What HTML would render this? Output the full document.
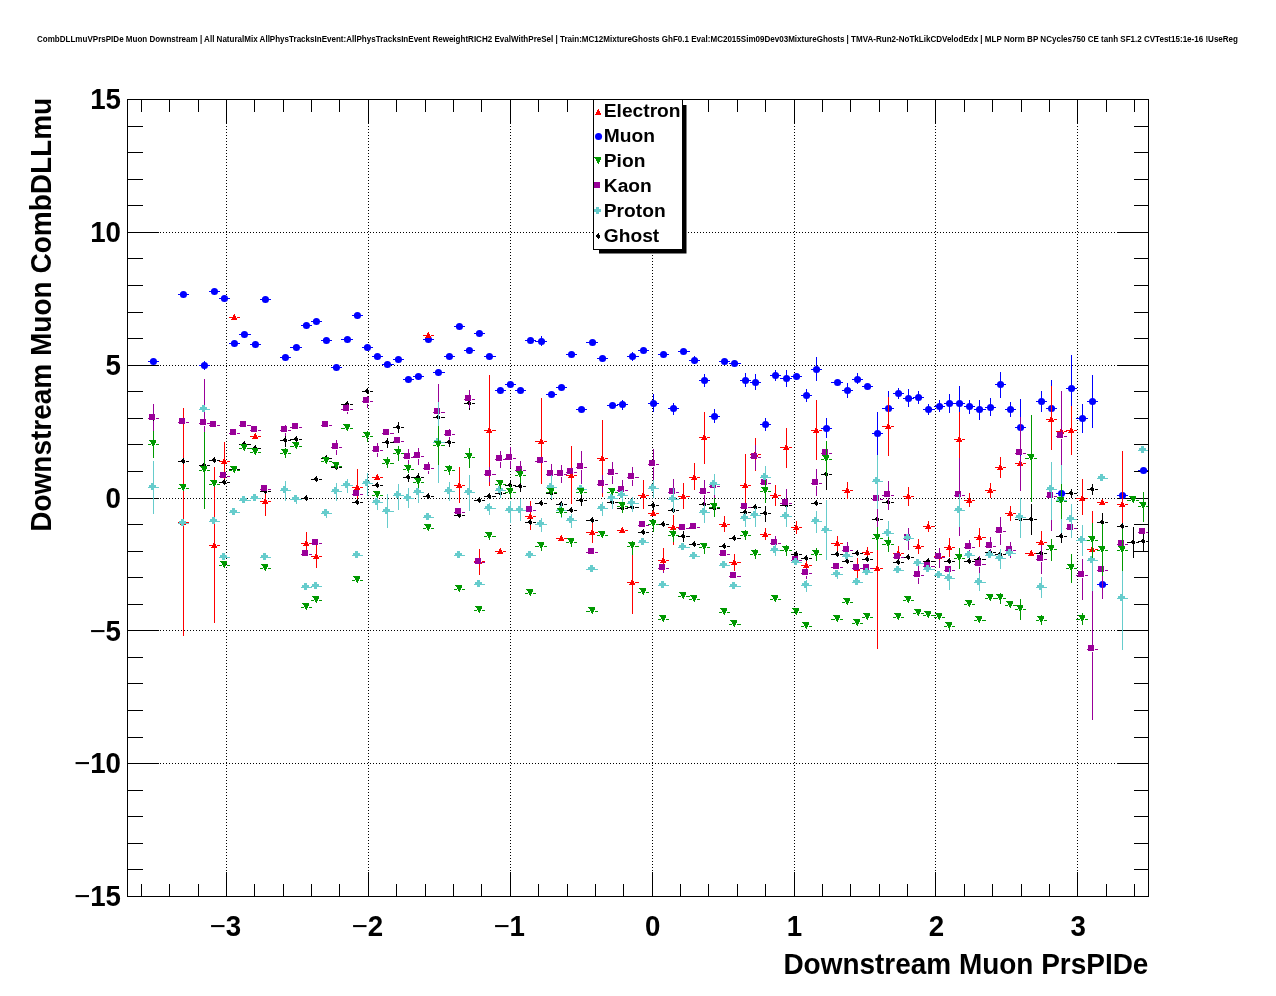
<!DOCTYPE html>
<html lang="en"><head><meta charset="utf-8"><title>CombDLLmu vs PrsPIDe</title>
<style>
html,body{margin:0;padding:0;background:#fff;}
body{width:1276px;height:996px;overflow:hidden;}
svg{display:block;}
text{font-family:"Liberation Sans",sans-serif;font-weight:bold;fill:#000;}
.ax{stroke:#000;stroke-width:1;fill:none;shape-rendering:crispEdges;}
.gr{stroke:#000;stroke-width:1;fill:none;stroke-dasharray:1 2;shape-rendering:crispEdges;}
.tl{font-size:29.3px;}
.at{font-size:29.6px;}
.lg{font-size:19.2px;}
.e{stroke-width:1;fill:none;shape-rendering:crispEdges;}
</style></head><body>
<svg width="1276" height="996" viewBox="0 0 1276 996">
<rect x="0" y="0" width="1276" height="996" fill="#fff"/>
<text x="37" y="41.9" style="font-size:8.3px" textLength="1201" lengthAdjust="spacingAndGlyphs">CombDLLmuVPrsPIDe Muon Downstream | All NaturalMix AllPhysTracksInEvent:AllPhysTracksInEvent ReweightRICH2 EvalWithPreSel | Train:MC12MixtureGhosts GhF0.1 Eval:MC2015Sim09Dev03MixtureGhosts | TMVA-Run2-NoTkLikCDVelodEdx | MLP Norm BP NCycles750 CE tanh SF1.2 CVTest15:1e-16 !UseReg</text>
<g class="gr">
<line x1="226.5" y1="99" x2="226.5" y2="897"/>
<line x1="368.5" y1="99" x2="368.5" y2="897"/>
<line x1="510.5" y1="99" x2="510.5" y2="897"/>
<line x1="652.5" y1="99" x2="652.5" y2="897"/>
<line x1="794.5" y1="99" x2="794.5" y2="897"/>
<line x1="935.5" y1="99" x2="935.5" y2="897"/>
<line x1="1077.5" y1="99" x2="1077.5" y2="897"/>
<line x1="127" y1="763.5" x2="1149" y2="763.5"/>
<line x1="127" y1="630.5" x2="1149" y2="630.5"/>
<line x1="127" y1="498.5" x2="1149" y2="498.5"/>
<line x1="127" y1="365.5" x2="1149" y2="365.5"/>
<line x1="127" y1="232.5" x2="1149" y2="232.5"/>
</g>
<g class="ax">
<rect x="127.5" y="99.5" width="1021.0" height="797.0"/>
<path d="M141.5 896.5v-12.6M141.5 99.5v12M169.5 896.5v-12.6M169.5 99.5v12M198.5 896.5v-12.6M198.5 99.5v12M226.5 896.5v-24.6M226.5 99.5v24M254.5 896.5v-12.6M254.5 99.5v12M283.5 896.5v-12.6M283.5 99.5v12M311.5 896.5v-12.6M311.5 99.5v12M339.5 896.5v-12.6M339.5 99.5v12M368.5 896.5v-24.6M368.5 99.5v24M396.5 896.5v-12.6M396.5 99.5v12M425.5 896.5v-12.6M425.5 99.5v12M453.5 896.5v-12.6M453.5 99.5v12M481.5 896.5v-12.6M481.5 99.5v12M510.5 896.5v-24.6M510.5 99.5v24M538.5 896.5v-12.6M538.5 99.5v12M567.5 896.5v-12.6M567.5 99.5v12M595.5 896.5v-12.6M595.5 99.5v12M623.5 896.5v-12.6M623.5 99.5v12M652.5 896.5v-24.6M652.5 99.5v24M680.5 896.5v-12.6M680.5 99.5v12M708.5 896.5v-12.6M708.5 99.5v12M737.5 896.5v-12.6M737.5 99.5v12M765.5 896.5v-12.6M765.5 99.5v12M794.5 896.5v-24.6M794.5 99.5v24M822.5 896.5v-12.6M822.5 99.5v12M850.5 896.5v-12.6M850.5 99.5v12M879.5 896.5v-12.6M879.5 99.5v12M907.5 896.5v-12.6M907.5 99.5v12M935.5 896.5v-24.6M935.5 99.5v24M964.5 896.5v-12.6M964.5 99.5v12M992.5 896.5v-12.6M992.5 99.5v12M1021.5 896.5v-12.6M1021.5 99.5v12M1049.5 896.5v-12.6M1049.5 99.5v12M1077.5 896.5v-24.6M1077.5 99.5v24M1106.5 896.5v-12.6M1106.5 99.5v12M1134.5 896.5v-12.6M1134.5 99.5v12M127.5 869.5h15M1148.5 869.5h-15M127.5 843.5h15M1148.5 843.5h-15M127.5 816.5h15M1148.5 816.5h-15M127.5 790.5h15M1148.5 790.5h-15M127.5 763.5h31M1148.5 763.5h-31M127.5 737.5h15M1148.5 737.5h-15M127.5 710.5h15M1148.5 710.5h-15M127.5 683.5h15M1148.5 683.5h-15M127.5 657.5h15M1148.5 657.5h-15M127.5 630.5h31M1148.5 630.5h-31M127.5 604.5h15M1148.5 604.5h-15M127.5 577.5h15M1148.5 577.5h-15M127.5 551.5h15M1148.5 551.5h-15M127.5 524.5h15M1148.5 524.5h-15M127.5 498.5h31M1148.5 498.5h-31M127.5 471.5h15M1148.5 471.5h-15M127.5 444.5h15M1148.5 444.5h-15M127.5 418.5h15M1148.5 418.5h-15M127.5 391.5h15M1148.5 391.5h-15M127.5 365.5h31M1148.5 365.5h-31M127.5 338.5h15M1148.5 338.5h-15M127.5 312.5h15M1148.5 312.5h-15M127.5 285.5h15M1148.5 285.5h-15M127.5 258.5h15M1148.5 258.5h-15M127.5 232.5h31M1148.5 232.5h-31M127.5 205.5h15M1148.5 205.5h-15M127.5 179.5h15M1148.5 179.5h-15M127.5 152.5h15M1148.5 152.5h-15M127.5 126.5h15M1148.5 126.5h-15"/>
</g>
<defs><clipPath id="fc"><rect x="128" y="100" width="1020" height="796"/></clipPath><clipPath id="lc"><rect x="594" y="100" width="88" height="149"/></clipPath></defs>
<g clip-path="url(#fc)">
<g fill="#0000ff"><path class="e" stroke="#0000ff" d="M148 361.5H151M156 361.5H159M178 294.5H181M186 294.5H189M199 365.5H202M207 365.5H210M204.5 363V361M204.5 368V370M209 291.5H212M217 291.5H220M219 298.5H222M227 298.5H230M229 343.5H232M237 343.5H240M239 334.5H242M247 334.5H251M250 344.5H253M258 344.5H261M260 299.5H263M268 299.5H271M280 357.5H283M288 357.5H291M290 347.5H294M299 347.5H302M301 325.5H304M309 325.5H312M311 321.5H314M319 321.5H322M321 340.5H324M329 340.5H332M331 367.5H334M339 367.5H342M341 339.5H345M350 339.5H353M352 315.5H355M360 315.5H363M362 347.5H365M370 347.5H373M372 356.5H375M380 356.5H383M382 364.5H385M390 364.5H394M393 359.5H396M401 359.5H404M403 379.5H406M411 379.5H414M413 376.5H416M421 376.5H424M423 339.5H426M431 339.5H434M433 372.5H436M441 372.5H445M444 356.5H447M452 356.5H455M454 326.5H457M462 326.5H465M464 350.5H467M472 350.5H475M474 333.5H477M482 333.5H485M484 356.5H487M492 356.5H496M495 390.5H498M503 390.5H506M505 384.5H508M513 384.5H516M515 390.5H518M523 390.5H526M525 340.5H528M533 340.5H536M535 341.5H539M544 341.5H547M541.5 339V336M541.5 344V346M546 394.5H549M554 394.5H557M556 387.5H559M564 387.5H567M566 354.5H569M574 354.5H577M576 409.5H579M584 409.5H587M586 342.5H590M595 342.5H598M597 358.5H600M605 358.5H608M607 405.5H610M615 405.5H618M617 404.5H620M625 404.5H628M622.5 402V400M622.5 407V410M627 356.5H630M635 356.5H639M632.5 354V352M632.5 359V361M638 350.5H641M646 350.5H649M648 403.5H651M656 403.5H659M653.5 401V394M653.5 406V412M658 354.5H661M666 354.5H669M668 408.5H671M676 408.5H679M673.5 406V403M673.5 411V415M678 351.5H681M686 351.5H690M689 360.5H692M697 360.5H700M694.5 358V356M694.5 363V364M699 380.5H702M707 380.5H710M704.5 378V374M704.5 383V387M709 416.5H712M717 416.5H720M714.5 414V409M714.5 419V423M719 361.5H722M727 361.5H730M729 363.5H732M737 363.5H741M740 380.5H743M748 380.5H751M745.5 378V373M745.5 383V387M750 382.5H753M758 382.5H761M755.5 380V374M755.5 385V390M760 424.5H763M768 424.5H771M765.5 422V418M765.5 427V431M770 375.5H773M778 375.5H781M775.5 373V370M775.5 378V381M780 378.5H784M789 378.5H792M786.5 376V370M786.5 381V387M791 376.5H794M799 376.5H802M801 395.5H804M809 395.5H812M806.5 393V389M806.5 398V402M811 369.5H814M819 369.5H822M816.5 367V357M816.5 372V381M821 428.5H824M829 428.5H832M826.5 426V418M826.5 431V438M831 382.5H835M840 382.5H843M842 390.5H845M850 390.5H853M847.5 388V383M847.5 393V398M852 379.5H855M860 379.5H863M857.5 377V373M857.5 382V384M862 386.5H865M870 386.5H873M872 433.5H875M880 433.5H883M877.5 431V412M877.5 436V455M882 408.5H886M891 408.5H894M888.5 406V391M888.5 411V426M893 393.5H896M901 393.5H904M898.5 391V388M898.5 396V399M903 398.5H906M911 398.5H914M908.5 396V389M908.5 401V407M913 397.5H916M921 397.5H924M918.5 395V391M918.5 400V404M923 409.5H926M931 409.5H935M928.5 407V404M928.5 412V415M934 406.5H937M942 406.5H945M939.5 404V400M939.5 409V412M944 403.5H947M952 403.5H955M949.5 401V394M949.5 406V413M954 403.5H957M962 403.5H965M959.5 401V386M959.5 406V421M964 406.5H967M972 406.5H975M969.5 404V400M969.5 409V414M974 409.5H977M982 409.5H986M979.5 407V400M979.5 412V420M985 407.5H988M993 407.5H996M990.5 405V398M990.5 410V416M995 384.5H998M1003 384.5H1006M1000.5 382V372M1000.5 387V398M1005 409.5H1008M1013 409.5H1016M1010.5 407V402M1010.5 412V417M1015 427.5H1018M1023 427.5H1026M1020.5 425V399M1020.5 430V456M1036 401.5H1039M1044 401.5H1047M1041.5 399V391M1041.5 404V412M1046 408.5H1049M1054 408.5H1057M1051.5 406V380M1051.5 411V437M1056 493.5H1059M1064 493.5H1067M1066 388.5H1069M1074 388.5H1077M1071.5 386V355M1071.5 391V422M1076 418.5H1080M1085 418.5H1088M1082.5 416V404M1082.5 421V433M1087 401.5H1090M1095 401.5H1098M1092.5 399V375M1092.5 404V428M1097 584.5H1100M1105 584.5H1108M1117 495.5H1120M1125 495.5H1128M1138 470.5H1141M1146 470.5H1149"/><path d="M149.9 361.5a3.55 3.55 0 1 0 7.1 0a3.55 3.55 0 1 0 -7.1 0zM179.9 294.5a3.55 3.55 0 1 0 7.1 0a3.55 3.55 0 1 0 -7.1 0zM200.9 365.5a3.55 3.55 0 1 0 7.1 0a3.55 3.55 0 1 0 -7.1 0zM210.9 291.5a3.55 3.55 0 1 0 7.1 0a3.55 3.55 0 1 0 -7.1 0zM220.9 298.5a3.55 3.55 0 1 0 7.1 0a3.55 3.55 0 1 0 -7.1 0zM230.9 343.5a3.55 3.55 0 1 0 7.1 0a3.55 3.55 0 1 0 -7.1 0zM240.9 334.5a3.55 3.55 0 1 0 7.1 0a3.55 3.55 0 1 0 -7.1 0zM251.9 344.5a3.55 3.55 0 1 0 7.1 0a3.55 3.55 0 1 0 -7.1 0zM261.9 299.5a3.55 3.55 0 1 0 7.1 0a3.55 3.55 0 1 0 -7.1 0zM281.9 357.5a3.55 3.55 0 1 0 7.1 0a3.55 3.55 0 1 0 -7.1 0zM292.9 347.5a3.55 3.55 0 1 0 7.1 0a3.55 3.55 0 1 0 -7.1 0zM302.9 325.5a3.55 3.55 0 1 0 7.1 0a3.55 3.55 0 1 0 -7.1 0zM312.9 321.5a3.55 3.55 0 1 0 7.1 0a3.55 3.55 0 1 0 -7.1 0zM322.9 340.5a3.55 3.55 0 1 0 7.1 0a3.55 3.55 0 1 0 -7.1 0zM332.9 367.5a3.55 3.55 0 1 0 7.1 0a3.55 3.55 0 1 0 -7.1 0zM343.9 339.5a3.55 3.55 0 1 0 7.1 0a3.55 3.55 0 1 0 -7.1 0zM353.9 315.5a3.55 3.55 0 1 0 7.1 0a3.55 3.55 0 1 0 -7.1 0zM363.9 347.5a3.55 3.55 0 1 0 7.1 0a3.55 3.55 0 1 0 -7.1 0zM373.9 356.5a3.55 3.55 0 1 0 7.1 0a3.55 3.55 0 1 0 -7.1 0zM383.9 364.5a3.55 3.55 0 1 0 7.1 0a3.55 3.55 0 1 0 -7.1 0zM394.9 359.5a3.55 3.55 0 1 0 7.1 0a3.55 3.55 0 1 0 -7.1 0zM404.9 379.5a3.55 3.55 0 1 0 7.1 0a3.55 3.55 0 1 0 -7.1 0zM414.9 376.5a3.55 3.55 0 1 0 7.1 0a3.55 3.55 0 1 0 -7.1 0zM424.9 339.5a3.55 3.55 0 1 0 7.1 0a3.55 3.55 0 1 0 -7.1 0zM434.9 372.5a3.55 3.55 0 1 0 7.1 0a3.55 3.55 0 1 0 -7.1 0zM445.9 356.5a3.55 3.55 0 1 0 7.1 0a3.55 3.55 0 1 0 -7.1 0zM455.9 326.5a3.55 3.55 0 1 0 7.1 0a3.55 3.55 0 1 0 -7.1 0zM465.9 350.5a3.55 3.55 0 1 0 7.1 0a3.55 3.55 0 1 0 -7.1 0zM475.9 333.5a3.55 3.55 0 1 0 7.1 0a3.55 3.55 0 1 0 -7.1 0zM485.9 356.5a3.55 3.55 0 1 0 7.1 0a3.55 3.55 0 1 0 -7.1 0zM496.9 390.5a3.55 3.55 0 1 0 7.1 0a3.55 3.55 0 1 0 -7.1 0zM506.9 384.5a3.55 3.55 0 1 0 7.1 0a3.55 3.55 0 1 0 -7.1 0zM517 390.5a3.55 3.55 0 1 0 7.1 0a3.55 3.55 0 1 0 -7.1 0zM527 340.5a3.55 3.55 0 1 0 7.1 0a3.55 3.55 0 1 0 -7.1 0zM538 341.5a3.55 3.55 0 1 0 7.1 0a3.55 3.55 0 1 0 -7.1 0zM548 394.5a3.55 3.55 0 1 0 7.1 0a3.55 3.55 0 1 0 -7.1 0zM558 387.5a3.55 3.55 0 1 0 7.1 0a3.55 3.55 0 1 0 -7.1 0zM568 354.5a3.55 3.55 0 1 0 7.1 0a3.55 3.55 0 1 0 -7.1 0zM578 409.5a3.55 3.55 0 1 0 7.1 0a3.55 3.55 0 1 0 -7.1 0zM589 342.5a3.55 3.55 0 1 0 7.1 0a3.55 3.55 0 1 0 -7.1 0zM599 358.5a3.55 3.55 0 1 0 7.1 0a3.55 3.55 0 1 0 -7.1 0zM609 405.5a3.55 3.55 0 1 0 7.1 0a3.55 3.55 0 1 0 -7.1 0zM619 404.5a3.55 3.55 0 1 0 7.1 0a3.55 3.55 0 1 0 -7.1 0zM629 356.5a3.55 3.55 0 1 0 7.1 0a3.55 3.55 0 1 0 -7.1 0zM640 350.5a3.55 3.55 0 1 0 7.1 0a3.55 3.55 0 1 0 -7.1 0zM650 403.5a3.55 3.55 0 1 0 7.1 0a3.55 3.55 0 1 0 -7.1 0zM660 354.5a3.55 3.55 0 1 0 7.1 0a3.55 3.55 0 1 0 -7.1 0zM670 408.5a3.55 3.55 0 1 0 7.1 0a3.55 3.55 0 1 0 -7.1 0zM680 351.5a3.55 3.55 0 1 0 7.1 0a3.55 3.55 0 1 0 -7.1 0zM691 360.5a3.55 3.55 0 1 0 7.1 0a3.55 3.55 0 1 0 -7.1 0zM701 380.5a3.55 3.55 0 1 0 7.1 0a3.55 3.55 0 1 0 -7.1 0zM711 416.5a3.55 3.55 0 1 0 7.1 0a3.55 3.55 0 1 0 -7.1 0zM721 361.5a3.55 3.55 0 1 0 7.1 0a3.55 3.55 0 1 0 -7.1 0zM731 363.5a3.55 3.55 0 1 0 7.1 0a3.55 3.55 0 1 0 -7.1 0zM742 380.5a3.55 3.55 0 1 0 7.1 0a3.55 3.55 0 1 0 -7.1 0zM752 382.5a3.55 3.55 0 1 0 7.1 0a3.55 3.55 0 1 0 -7.1 0zM762 424.5a3.55 3.55 0 1 0 7.1 0a3.55 3.55 0 1 0 -7.1 0zM772 375.5a3.55 3.55 0 1 0 7.1 0a3.55 3.55 0 1 0 -7.1 0zM783 378.5a3.55 3.55 0 1 0 7.1 0a3.55 3.55 0 1 0 -7.1 0zM793 376.5a3.55 3.55 0 1 0 7.1 0a3.55 3.55 0 1 0 -7.1 0zM803 395.5a3.55 3.55 0 1 0 7.1 0a3.55 3.55 0 1 0 -7.1 0zM813 369.5a3.55 3.55 0 1 0 7.1 0a3.55 3.55 0 1 0 -7.1 0zM823 428.5a3.55 3.55 0 1 0 7.1 0a3.55 3.55 0 1 0 -7.1 0zM834 382.5a3.55 3.55 0 1 0 7.1 0a3.55 3.55 0 1 0 -7.1 0zM844 390.5a3.55 3.55 0 1 0 7.1 0a3.55 3.55 0 1 0 -7.1 0zM854 379.5a3.55 3.55 0 1 0 7.1 0a3.55 3.55 0 1 0 -7.1 0zM864 386.5a3.55 3.55 0 1 0 7.1 0a3.55 3.55 0 1 0 -7.1 0zM874 433.5a3.55 3.55 0 1 0 7.1 0a3.55 3.55 0 1 0 -7.1 0zM885 408.5a3.55 3.55 0 1 0 7.1 0a3.55 3.55 0 1 0 -7.1 0zM895 393.5a3.55 3.55 0 1 0 7.1 0a3.55 3.55 0 1 0 -7.1 0zM905 398.5a3.55 3.55 0 1 0 7.1 0a3.55 3.55 0 1 0 -7.1 0zM915 397.5a3.55 3.55 0 1 0 7.1 0a3.55 3.55 0 1 0 -7.1 0zM925 409.5a3.55 3.55 0 1 0 7.1 0a3.55 3.55 0 1 0 -7.1 0zM936 406.5a3.55 3.55 0 1 0 7.1 0a3.55 3.55 0 1 0 -7.1 0zM946 403.5a3.55 3.55 0 1 0 7.1 0a3.55 3.55 0 1 0 -7.1 0zM956 403.5a3.55 3.55 0 1 0 7.1 0a3.55 3.55 0 1 0 -7.1 0zM966 406.5a3.55 3.55 0 1 0 7.1 0a3.55 3.55 0 1 0 -7.1 0zM976 409.5a3.55 3.55 0 1 0 7.1 0a3.55 3.55 0 1 0 -7.1 0zM987 407.5a3.55 3.55 0 1 0 7.1 0a3.55 3.55 0 1 0 -7.1 0zM997 384.5a3.55 3.55 0 1 0 7.1 0a3.55 3.55 0 1 0 -7.1 0zM1007 409.5a3.55 3.55 0 1 0 7.1 0a3.55 3.55 0 1 0 -7.1 0zM1017 427.5a3.55 3.55 0 1 0 7.1 0a3.55 3.55 0 1 0 -7.1 0zM1038 401.5a3.55 3.55 0 1 0 7.1 0a3.55 3.55 0 1 0 -7.1 0zM1048 408.5a3.55 3.55 0 1 0 7.1 0a3.55 3.55 0 1 0 -7.1 0zM1058 493.5a3.55 3.55 0 1 0 7.1 0a3.55 3.55 0 1 0 -7.1 0zM1068 388.5a3.55 3.55 0 1 0 7.1 0a3.55 3.55 0 1 0 -7.1 0zM1079 418.5a3.55 3.55 0 1 0 7.1 0a3.55 3.55 0 1 0 -7.1 0zM1089 401.5a3.55 3.55 0 1 0 7.1 0a3.55 3.55 0 1 0 -7.1 0zM1099 584.5a3.55 3.55 0 1 0 7.1 0a3.55 3.55 0 1 0 -7.1 0zM1119 495.5a3.55 3.55 0 1 0 7.1 0a3.55 3.55 0 1 0 -7.1 0zM1140 470.5a3.55 3.55 0 1 0 7.1 0a3.55 3.55 0 1 0 -7.1 0z"/></g>
<g fill="#ff0000"><path class="e" stroke="#ff0000" d="M178 522.5H181M186 522.5H189M183.5 520V408M183.5 525V636M209 545.5H212M217 545.5H220M214.5 543V467M214.5 548V623M219 461.5H222M227 461.5H230M224.5 459V442M224.5 464V481M229 317.5H232M237 317.5H240M250 436.5H253M258 436.5H261M260 501.5H263M268 501.5H271M265.5 499V490M265.5 504V516M301 543.5H304M309 543.5H312M306.5 541V532M306.5 546V554M311 556.5H314M319 556.5H322M316.5 554V544M316.5 559V568M352 487.5H355M360 487.5H363M357.5 485V469M357.5 490V500M372 477.5H375M380 477.5H383M423 335.5H426M431 335.5H434M454 485.5H457M462 485.5H465M459.5 483V467M459.5 488V503M474 561.5H477M482 561.5H485M479.5 559V549M479.5 564V575M484 430.5H487M492 430.5H496M489.5 428V375M489.5 433V486M495 551.5H498M503 551.5H506M525 516.5H528M533 516.5H536M530.5 514V501M530.5 519V530M535 441.5H539M544 441.5H547M541.5 439V398M541.5 444V484M556 538.5H559M564 538.5H567M566 475.5H569M574 475.5H577M571.5 473V446M571.5 478V504M586 532.5H590M595 532.5H598M592.5 530V523M592.5 535V543M597 458.5H600M605 458.5H608M602.5 456V420M602.5 461V497M617 530.5H620M625 530.5H628M627 582.5H630M635 582.5H639M632.5 580V551M632.5 585V614M638 495.5H641M646 495.5H649M643.5 493V480M643.5 498V509M648 513.5H651M656 513.5H659M658 560.5H661M666 560.5H669M663.5 558V548M663.5 563V573M668 527.5H671M676 527.5H679M673.5 525V515M673.5 530V545M678 496.5H681M686 496.5H690M683.5 494V483M683.5 499V509M689 477.5H692M697 477.5H700M694.5 475V463M694.5 480V490M699 437.5H702M707 437.5H710M704.5 435V412M704.5 440V464M719 524.5H722M727 524.5H730M724.5 522V516M724.5 527V532M729 562.5H732M737 562.5H741M734.5 560V554M734.5 565V571M740 485.5H743M748 485.5H751M745.5 483V454M745.5 488V517M750 454.5H753M758 454.5H761M755.5 452V438M755.5 457V471M760 534.5H763M768 534.5H771M765.5 532V528M765.5 537V540M770 495.5H773M778 495.5H781M775.5 493V485M775.5 498V506M780 447.5H784M789 447.5H792M786.5 445V428M786.5 450V468M791 527.5H794M799 527.5H802M796.5 525V521M796.5 530V534M801 565.5H804M809 565.5H812M806.5 563V561M806.5 568V570M811 430.5H814M819 430.5H822M816.5 428V400M816.5 433V460M831 543.5H835M840 543.5H843M837.5 541V536M837.5 546V551M842 490.5H845M850 490.5H853M847.5 488V482M847.5 493V499M852 568.5H855M860 568.5H863M857.5 566V558M857.5 571V578M862 552.5H865M870 552.5H873M867.5 550V547M867.5 555V559M872 568.5H875M880 568.5H883M877.5 566V488M877.5 571V649M882 426.5H886M891 426.5H894M888.5 424V397M888.5 429V456M893 553.5H896M901 553.5H904M898.5 551V546M898.5 556V561M903 496.5H906M911 496.5H914M908.5 494V487M908.5 499V506M913 546.5H916M921 546.5H924M918.5 544V539M918.5 549V554M923 526.5H926M931 526.5H935M928.5 524V521M928.5 529V532M934 556.5H937M942 556.5H945M939.5 554V549M939.5 559V565M944 547.5H947M952 547.5H955M949.5 545V538M949.5 550V557M954 439.5H957M962 439.5H965M959.5 437V412M959.5 442V467M964 500.5H967M972 500.5H975M969.5 498V493M969.5 503V507M974 537.5H977M982 537.5H986M979.5 535V528M979.5 540V547M985 490.5H988M993 490.5H996M990.5 488V483M990.5 493V498M995 467.5H998M1003 467.5H1006M1000.5 465V457M1000.5 470V478M1005 513.5H1008M1013 513.5H1016M1010.5 511V506M1010.5 516V521M1015 463.5H1018M1023 463.5H1026M1025 553.5H1029M1034 553.5H1037M1036 542.5H1039M1044 542.5H1047M1041.5 540V531M1041.5 545V554M1046 419.5H1049M1054 419.5H1057M1051.5 417V386M1051.5 422V450M1056 431.5H1059M1064 431.5H1067M1066 430.5H1069M1074 430.5H1077M1071.5 428V406M1071.5 433V455M1076 498.5H1080M1085 498.5H1088M1082.5 496V479M1082.5 501V515M1087 549.5H1090M1095 549.5H1098M1092.5 547V511M1092.5 552V589M1097 502.5H1100M1105 502.5H1108M1117 504.5H1120M1125 504.5H1128M1122.5 502V451M1122.5 507V557"/><path shape-rendering="crispEdges" d="M183 519h1v2h1v2h1v2h-6v-1h1v-2h1v-2h1zM214 542h1v2h1v2h1v2h-6v-1h1v-2h1v-2h1zM224 458h1v2h1v2h1v2h-6v-1h1v-2h1v-2h1zM234 314h1v2h1v2h1v2h-6v-1h1v-2h1v-2h1zM255 433h1v2h1v2h1v2h-6v-1h1v-2h1v-2h1zM265 498h1v2h1v2h1v2h-6v-1h1v-2h1v-2h1zM306 540h1v2h1v2h1v2h-6v-1h1v-2h1v-2h1zM316 553h1v2h1v2h1v2h-6v-1h1v-2h1v-2h1zM357 484h1v2h1v2h1v2h-6v-1h1v-2h1v-2h1zM377 474h1v2h1v2h1v2h-6v-1h1v-2h1v-2h1zM428 332h1v2h1v2h1v2h-6v-1h1v-2h1v-2h1zM459 482h1v2h1v2h1v2h-6v-1h1v-2h1v-2h1zM479 558h1v2h1v2h1v2h-6v-1h1v-2h1v-2h1zM489 427h1v2h1v2h1v2h-6v-1h1v-2h1v-2h1zM500 548h1v2h1v2h1v2h-6v-1h1v-2h1v-2h1zM530 513h1v2h1v2h1v2h-6v-1h1v-2h1v-2h1zM541 438h1v2h1v2h1v2h-6v-1h1v-2h1v-2h1zM561 535h1v2h1v2h1v2h-6v-1h1v-2h1v-2h1zM571 472h1v2h1v2h1v2h-6v-1h1v-2h1v-2h1zM592 529h1v2h1v2h1v2h-6v-1h1v-2h1v-2h1zM602 455h1v2h1v2h1v2h-6v-1h1v-2h1v-2h1zM622 527h1v2h1v2h1v2h-6v-1h1v-2h1v-2h1zM632 579h1v2h1v2h1v2h-6v-1h1v-2h1v-2h1zM643 492h1v2h1v2h1v2h-6v-1h1v-2h1v-2h1zM653 510h1v2h1v2h1v2h-6v-1h1v-2h1v-2h1zM663 557h1v2h1v2h1v2h-6v-1h1v-2h1v-2h1zM673 524h1v2h1v2h1v2h-6v-1h1v-2h1v-2h1zM683 493h1v2h1v2h1v2h-6v-1h1v-2h1v-2h1zM694 474h1v2h1v2h1v2h-6v-1h1v-2h1v-2h1zM704 434h1v2h1v2h1v2h-6v-1h1v-2h1v-2h1zM724 521h1v2h1v2h1v2h-6v-1h1v-2h1v-2h1zM734 559h1v2h1v2h1v2h-6v-1h1v-2h1v-2h1zM745 482h1v2h1v2h1v2h-6v-1h1v-2h1v-2h1zM755 451h1v2h1v2h1v2h-6v-1h1v-2h1v-2h1zM765 531h1v2h1v2h1v2h-6v-1h1v-2h1v-2h1zM775 492h1v2h1v2h1v2h-6v-1h1v-2h1v-2h1zM786 444h1v2h1v2h1v2h-6v-1h1v-2h1v-2h1zM796 524h1v2h1v2h1v2h-6v-1h1v-2h1v-2h1zM806 562h1v2h1v2h1v2h-6v-1h1v-2h1v-2h1zM816 427h1v2h1v2h1v2h-6v-1h1v-2h1v-2h1zM837 540h1v2h1v2h1v2h-6v-1h1v-2h1v-2h1zM847 487h1v2h1v2h1v2h-6v-1h1v-2h1v-2h1zM857 565h1v2h1v2h1v2h-6v-1h1v-2h1v-2h1zM867 549h1v2h1v2h1v2h-6v-1h1v-2h1v-2h1zM877 565h1v2h1v2h1v2h-6v-1h1v-2h1v-2h1zM888 423h1v2h1v2h1v2h-6v-1h1v-2h1v-2h1zM898 550h1v2h1v2h1v2h-6v-1h1v-2h1v-2h1zM908 493h1v2h1v2h1v2h-6v-1h1v-2h1v-2h1zM918 543h1v2h1v2h1v2h-6v-1h1v-2h1v-2h1zM928 523h1v2h1v2h1v2h-6v-1h1v-2h1v-2h1zM939 553h1v2h1v2h1v2h-6v-1h1v-2h1v-2h1zM949 544h1v2h1v2h1v2h-6v-1h1v-2h1v-2h1zM959 436h1v2h1v2h1v2h-6v-1h1v-2h1v-2h1zM969 497h1v2h1v2h1v2h-6v-1h1v-2h1v-2h1zM979 534h1v2h1v2h1v2h-6v-1h1v-2h1v-2h1zM990 487h1v2h1v2h1v2h-6v-1h1v-2h1v-2h1zM1000 464h1v2h1v2h1v2h-6v-1h1v-2h1v-2h1zM1010 510h1v2h1v2h1v2h-6v-1h1v-2h1v-2h1zM1020 460h1v2h1v2h1v2h-6v-1h1v-2h1v-2h1zM1031 550h1v2h1v2h1v2h-6v-1h1v-2h1v-2h1zM1041 539h1v2h1v2h1v2h-6v-1h1v-2h1v-2h1zM1051 416h1v2h1v2h1v2h-6v-1h1v-2h1v-2h1zM1061 428h1v2h1v2h1v2h-6v-1h1v-2h1v-2h1zM1071 427h1v2h1v2h1v2h-6v-1h1v-2h1v-2h1zM1082 495h1v2h1v2h1v2h-6v-1h1v-2h1v-2h1zM1092 546h1v2h1v2h1v2h-6v-1h1v-2h1v-2h1zM1102 499h1v2h1v2h1v2h-6v-1h1v-2h1v-2h1zM1122 501h1v2h1v2h1v2h-6v-1h1v-2h1v-2h1z"/></g>
<g fill="#000000"><path class="e" stroke="#000000" d="M148 418.5H151M156 418.5H159M178 461.5H181M186 461.5H189M199 465.5H202M207 465.5H210M209 460.5H212M217 460.5H220M219 482.5H222M227 482.5H230M229 469.5H232M237 469.5H240M239 444.5H242M247 444.5H251M250 448.5H253M258 448.5H261M260 491.5H263M268 491.5H271M280 440.5H283M288 440.5H291M285.5 438V435M285.5 443V447M290 439.5H294M299 439.5H302M301 498.5H304M309 498.5H312M311 479.5H314M319 479.5H322M321 458.5H324M329 458.5H332M331 467.5H334M339 467.5H342M341 404.5H345M350 404.5H353M352 502.5H355M360 502.5H363M362 391.5H365M370 391.5H373M372 485.5H375M380 485.5H383M382 442.5H385M390 442.5H394M387.5 440V438M387.5 445V448M393 427.5H396M401 427.5H404M398.5 425V422M398.5 430V433M403 477.5H406M411 477.5H414M408.5 475V474M408.5 480V482M413 477.5H416M421 477.5H424M418.5 475V473M418.5 480V481M423 496.5H426M431 496.5H434M433 417.5H436M441 417.5H445M444 442.5H447M452 442.5H455M449.5 440V438M449.5 445V447M454 515.5H457M462 515.5H465M464 403.5H467M472 403.5H475M469.5 401V396M469.5 406V410M474 500.5H477M482 500.5H485M484 496.5H487M492 496.5H496M495 493.5H498M503 493.5H506M505 485.5H508M513 485.5H516M510.5 483V480M510.5 488V490M515 486.5H518M523 486.5H526M520.5 484V482M520.5 489V492M525 522.5H528M533 522.5H536M535 503.5H539M544 503.5H547M546 493.5H549M554 493.5H557M551.5 491V487M551.5 496V500M556 504.5H559M564 504.5H567M566 510.5H569M574 510.5H577M576 500.5H579M584 500.5H587M581.5 498V495M581.5 503V506M586 520.5H590M595 520.5H598M607 502.5H610M615 502.5H618M617 508.5H620M625 508.5H628M627 507.5H630M635 507.5H639M638 532.5H641M646 532.5H649M648 505.5H651M656 505.5H659M653.5 503V502M653.5 508V510M658 524.5H661M666 524.5H669M668 510.5H671M676 510.5H679M678 536.5H681M686 536.5H690M683.5 534V531M683.5 539V542M689 544.5H692M697 544.5H700M699 504.5H702M707 504.5H710M709 508.5H712M717 508.5H720M719 546.5H722M727 546.5H730M729 538.5H732M737 538.5H741M740 512.5H743M748 512.5H751M750 507.5H753M758 507.5H761M760 513.5H763M768 513.5H771M765.5 511V506M765.5 516V522M780 505.5H784M789 505.5H792M791 554.5H794M799 554.5H802M801 558.5H804M809 558.5H812M811 503.5H814M819 503.5H822M821 474.5H824M829 474.5H832M826.5 472V459M826.5 477V490M831 554.5H835M840 554.5H843M842 561.5H845M850 561.5H853M852 553.5H855M860 553.5H863M862 559.5H865M870 559.5H873M872 519.5H875M880 519.5H883M882 502.5H886M891 502.5H894M893 562.5H896M901 562.5H904M903 557.5H906M911 557.5H914M923 561.5H926M931 561.5H935M944 561.5H947M952 561.5H955M964 561.5H967M972 561.5H975M974 559.5H977M982 559.5H986M985 552.5H988M993 552.5H996M995 554.5H998M1003 554.5H1006M1015 519.5H1018M1023 519.5H1026M1025 519.5H1029M1034 519.5H1037M1031.5 517V504M1031.5 522V535M1036 553.5H1039M1044 553.5H1047M1056 536.5H1059M1064 536.5H1067M1061.5 534V530M1061.5 539V543M1066 493.5H1069M1074 493.5H1077M1071.5 491V489M1071.5 496V498M1087 489.5H1090M1095 489.5H1098M1092.5 487V484M1092.5 492V495M1097 522.5H1100M1105 522.5H1108M1102.5 520V513M1102.5 525V532M1117 526.5H1120M1125 526.5H1128M1127 542.5H1131M1136 542.5H1139M1133.5 540V527M1133.5 545V558M1138 541.5H1141M1146 541.5H1149M1143.5 539V530M1143.5 544V552"/><path shape-rendering="crispEdges" d="M153 415h1v2h1v3h-1v1h-1v-1h-1v-1h-1v-2h1v-1h1zM183 458h1v2h1v3h-1v1h-1v-1h-1v-1h-1v-2h1v-1h1zM204 462h1v2h1v3h-1v1h-1v-1h-1v-1h-1v-2h1v-1h1zM214 457h1v2h1v3h-1v1h-1v-1h-1v-1h-1v-2h1v-1h1zM224 479h1v2h1v3h-1v1h-1v-1h-1v-1h-1v-2h1v-1h1zM234 466h1v2h1v3h-1v1h-1v-1h-1v-1h-1v-2h1v-1h1zM244 441h1v2h1v3h-1v1h-1v-1h-1v-1h-1v-2h1v-1h1zM255 445h1v2h1v3h-1v1h-1v-1h-1v-1h-1v-2h1v-1h1zM265 488h1v2h1v3h-1v1h-1v-1h-1v-1h-1v-2h1v-1h1zM285 437h1v2h1v3h-1v1h-1v-1h-1v-1h-1v-2h1v-1h1zM296 436h1v2h1v3h-1v1h-1v-1h-1v-1h-1v-2h1v-1h1zM306 495h1v2h1v3h-1v1h-1v-1h-1v-1h-1v-2h1v-1h1zM316 476h1v2h1v3h-1v1h-1v-1h-1v-1h-1v-2h1v-1h1zM326 455h1v2h1v3h-1v1h-1v-1h-1v-1h-1v-2h1v-1h1zM336 464h1v2h1v3h-1v1h-1v-1h-1v-1h-1v-2h1v-1h1zM347 401h1v2h1v3h-1v1h-1v-1h-1v-1h-1v-2h1v-1h1zM357 499h1v2h1v3h-1v1h-1v-1h-1v-1h-1v-2h1v-1h1zM367 388h1v2h1v3h-1v1h-1v-1h-1v-1h-1v-2h1v-1h1zM377 482h1v2h1v3h-1v1h-1v-1h-1v-1h-1v-2h1v-1h1zM387 439h1v2h1v3h-1v1h-1v-1h-1v-1h-1v-2h1v-1h1zM398 424h1v2h1v3h-1v1h-1v-1h-1v-1h-1v-2h1v-1h1zM408 474h1v2h1v3h-1v1h-1v-1h-1v-1h-1v-2h1v-1h1zM418 474h1v2h1v3h-1v1h-1v-1h-1v-1h-1v-2h1v-1h1zM428 493h1v2h1v3h-1v1h-1v-1h-1v-1h-1v-2h1v-1h1zM438 414h1v2h1v3h-1v1h-1v-1h-1v-1h-1v-2h1v-1h1zM449 439h1v2h1v3h-1v1h-1v-1h-1v-1h-1v-2h1v-1h1zM459 512h1v2h1v3h-1v1h-1v-1h-1v-1h-1v-2h1v-1h1zM469 400h1v2h1v3h-1v1h-1v-1h-1v-1h-1v-2h1v-1h1zM479 497h1v2h1v3h-1v1h-1v-1h-1v-1h-1v-2h1v-1h1zM489 493h1v2h1v3h-1v1h-1v-1h-1v-1h-1v-2h1v-1h1zM500 490h1v2h1v3h-1v1h-1v-1h-1v-1h-1v-2h1v-1h1zM510 482h1v2h1v3h-1v1h-1v-1h-1v-1h-1v-2h1v-1h1zM520 483h1v2h1v3h-1v1h-1v-1h-1v-1h-1v-2h1v-1h1zM530 519h1v2h1v3h-1v1h-1v-1h-1v-1h-1v-2h1v-1h1zM541 500h1v2h1v3h-1v1h-1v-1h-1v-1h-1v-2h1v-1h1zM551 490h1v2h1v3h-1v1h-1v-1h-1v-1h-1v-2h1v-1h1zM561 501h1v2h1v3h-1v1h-1v-1h-1v-1h-1v-2h1v-1h1zM571 507h1v2h1v3h-1v1h-1v-1h-1v-1h-1v-2h1v-1h1zM581 497h1v2h1v3h-1v1h-1v-1h-1v-1h-1v-2h1v-1h1zM592 517h1v2h1v3h-1v1h-1v-1h-1v-1h-1v-2h1v-1h1zM612 499h1v2h1v3h-1v1h-1v-1h-1v-1h-1v-2h1v-1h1zM622 505h1v2h1v3h-1v1h-1v-1h-1v-1h-1v-2h1v-1h1zM632 504h1v2h1v3h-1v1h-1v-1h-1v-1h-1v-2h1v-1h1zM643 529h1v2h1v3h-1v1h-1v-1h-1v-1h-1v-2h1v-1h1zM653 502h1v2h1v3h-1v1h-1v-1h-1v-1h-1v-2h1v-1h1zM663 521h1v2h1v3h-1v1h-1v-1h-1v-1h-1v-2h1v-1h1zM673 507h1v2h1v3h-1v1h-1v-1h-1v-1h-1v-2h1v-1h1zM683 533h1v2h1v3h-1v1h-1v-1h-1v-1h-1v-2h1v-1h1zM694 541h1v2h1v3h-1v1h-1v-1h-1v-1h-1v-2h1v-1h1zM704 501h1v2h1v3h-1v1h-1v-1h-1v-1h-1v-2h1v-1h1zM714 505h1v2h1v3h-1v1h-1v-1h-1v-1h-1v-2h1v-1h1zM724 543h1v2h1v3h-1v1h-1v-1h-1v-1h-1v-2h1v-1h1zM734 535h1v2h1v3h-1v1h-1v-1h-1v-1h-1v-2h1v-1h1zM745 509h1v2h1v3h-1v1h-1v-1h-1v-1h-1v-2h1v-1h1zM755 504h1v2h1v3h-1v1h-1v-1h-1v-1h-1v-2h1v-1h1zM765 510h1v2h1v3h-1v1h-1v-1h-1v-1h-1v-2h1v-1h1zM786 502h1v2h1v3h-1v1h-1v-1h-1v-1h-1v-2h1v-1h1zM796 551h1v2h1v3h-1v1h-1v-1h-1v-1h-1v-2h1v-1h1zM806 555h1v2h1v3h-1v1h-1v-1h-1v-1h-1v-2h1v-1h1zM816 500h1v2h1v3h-1v1h-1v-1h-1v-1h-1v-2h1v-1h1zM826 471h1v2h1v3h-1v1h-1v-1h-1v-1h-1v-2h1v-1h1zM837 551h1v2h1v3h-1v1h-1v-1h-1v-1h-1v-2h1v-1h1zM847 558h1v2h1v3h-1v1h-1v-1h-1v-1h-1v-2h1v-1h1zM857 550h1v2h1v3h-1v1h-1v-1h-1v-1h-1v-2h1v-1h1zM867 556h1v2h1v3h-1v1h-1v-1h-1v-1h-1v-2h1v-1h1zM877 516h1v2h1v3h-1v1h-1v-1h-1v-1h-1v-2h1v-1h1zM888 499h1v2h1v3h-1v1h-1v-1h-1v-1h-1v-2h1v-1h1zM898 559h1v2h1v3h-1v1h-1v-1h-1v-1h-1v-2h1v-1h1zM908 554h1v2h1v3h-1v1h-1v-1h-1v-1h-1v-2h1v-1h1zM928 558h1v2h1v3h-1v1h-1v-1h-1v-1h-1v-2h1v-1h1zM949 558h1v2h1v3h-1v1h-1v-1h-1v-1h-1v-2h1v-1h1zM969 558h1v2h1v3h-1v1h-1v-1h-1v-1h-1v-2h1v-1h1zM979 556h1v2h1v3h-1v1h-1v-1h-1v-1h-1v-2h1v-1h1zM990 549h1v2h1v3h-1v1h-1v-1h-1v-1h-1v-2h1v-1h1zM1000 551h1v2h1v3h-1v1h-1v-1h-1v-1h-1v-2h1v-1h1zM1020 516h1v2h1v3h-1v1h-1v-1h-1v-1h-1v-2h1v-1h1zM1031 516h1v2h1v3h-1v1h-1v-1h-1v-1h-1v-2h1v-1h1zM1041 550h1v2h1v3h-1v1h-1v-1h-1v-1h-1v-2h1v-1h1zM1061 533h1v2h1v3h-1v1h-1v-1h-1v-1h-1v-2h1v-1h1zM1071 490h1v2h1v3h-1v1h-1v-1h-1v-1h-1v-2h1v-1h1zM1092 486h1v2h1v3h-1v1h-1v-1h-1v-1h-1v-2h1v-1h1zM1102 519h1v2h1v3h-1v1h-1v-1h-1v-1h-1v-2h1v-1h1zM1122 523h1v2h1v3h-1v1h-1v-1h-1v-1h-1v-2h1v-1h1zM1133 539h1v2h1v3h-1v1h-1v-1h-1v-1h-1v-2h1v-1h1zM1143 538h1v2h1v3h-1v1h-1v-1h-1v-1h-1v-2h1v-1h1z"/></g>
<g fill="#990099"><path class="e" stroke="#990099" d="M148 418.5H151M156 418.5H159M153.5 416V404M153.5 421V433M178 422.5H181M186 422.5H189M199 423.5H202M207 423.5H210M204.5 421V379M204.5 426V467M209 425.5H212M217 425.5H220M219 476.5H222M227 476.5H230M229 433.5H232M237 433.5H240M239 425.5H242M247 425.5H251M250 430.5H253M258 430.5H261M260 489.5H263M268 489.5H271M280 430.5H283M288 430.5H291M285.5 428V425M285.5 433V436M290 427.5H294M299 427.5H302M301 554.5H304M309 554.5H312M311 543.5H314M319 543.5H322M321 425.5H324M329 425.5H332M331 447.5H334M339 447.5H342M336.5 445V440M336.5 450V455M341 409.5H345M350 409.5H353M347.5 407V404M347.5 412V414M352 494.5H355M360 494.5H363M362 401.5H365M370 401.5H373M367.5 399V396M367.5 404V408M372 450.5H375M380 450.5H383M377.5 448V443M377.5 453V457M382 433.5H385M390 433.5H394M393 441.5H396M401 441.5H404M403 457.5H406M411 457.5H414M408.5 455V449M408.5 460V464M413 456.5H416M421 456.5H424M418.5 454V448M418.5 459V465M423 468.5H426M431 468.5H434M428.5 466V462M428.5 471V474M433 412.5H436M441 412.5H445M438.5 410V384M438.5 415V442M444 434.5H447M452 434.5H455M449.5 432V429M449.5 437V440M454 512.5H457M462 512.5H465M464 399.5H467M472 399.5H475M469.5 397V390M469.5 402V408M474 562.5H477M482 562.5H485M484 474.5H487M492 474.5H496M489.5 472V467M489.5 477V482M495 459.5H498M503 459.5H506M500.5 457V451M500.5 462V468M505 458.5H508M513 458.5H516M510.5 456V447M510.5 461V468M515 470.5H518M523 470.5H526M520.5 468V461M520.5 473V480M525 510.5H528M533 510.5H536M535 461.5H539M544 461.5H547M546 474.5H549M554 474.5H557M551.5 472V464M551.5 477V486M556 474.5H559M564 474.5H567M561.5 472V465M561.5 477V483M566 472.5H569M574 472.5H577M576 467.5H579M584 467.5H587M581.5 465V451M581.5 470V484M586 552.5H590M595 552.5H598M597 484.5H600M605 484.5H608M602.5 482V475M602.5 487V493M607 473.5H610M615 473.5H618M612.5 471V462M612.5 476V484M617 490.5H620M625 490.5H628M622.5 488V480M622.5 493V501M627 477.5H630M635 477.5H639M632.5 475V467M632.5 480V486M638 525.5H641M646 525.5H649M648 464.5H651M656 464.5H659M653.5 462V449M653.5 467V480M658 568.5H661M666 568.5H669M663.5 566V564M663.5 571V573M668 492.5H671M676 492.5H679M673.5 490V479M673.5 495V506M678 528.5H681M686 528.5H690M689 527.5H692M697 527.5H700M699 492.5H702M707 492.5H710M704.5 490V480M704.5 495V505M709 486.5H712M717 486.5H720M714.5 484V475M714.5 489V498M719 554.5H722M727 554.5H730M729 576.5H732M737 576.5H741M740 507.5H743M748 507.5H751M750 457.5H753M758 457.5H761M755.5 455V445M755.5 460V470M760 483.5H763M768 483.5H771M770 543.5H773M778 543.5H781M775.5 541V536M775.5 546V551M780 503.5H784M789 503.5H792M786.5 501V489M786.5 506V518M791 560.5H794M799 560.5H802M801 573.5H804M809 573.5H812M806.5 571V568M806.5 576V579M811 483.5H814M819 483.5H822M816.5 481V469M816.5 486V496M821 453.5H824M829 453.5H832M831 567.5H835M840 567.5H843M842 550.5H845M850 550.5H853M847.5 548V542M847.5 553V558M852 568.5H855M860 568.5H863M862 568.5H865M870 568.5H873M872 499.5H875M880 499.5H883M877.5 497V471M877.5 502V527M882 495.5H886M891 495.5H894M888.5 493V481M888.5 498V510M893 557.5H896M901 557.5H904M903 538.5H906M911 538.5H914M908.5 536V528M908.5 541V550M913 575.5H916M921 575.5H924M918.5 573V566M918.5 578V584M923 566.5H926M931 566.5H935M934 557.5H937M942 557.5H945M939.5 555V548M939.5 560V568M944 570.5H947M952 570.5H955M954 495.5H957M962 495.5H965M959.5 493V458M959.5 498V536M964 547.5H967M972 547.5H975M969.5 545V540M969.5 550V555M974 564.5H977M982 564.5H986M979.5 562V556M979.5 567V573M985 546.5H988M993 546.5H996M990.5 544V537M990.5 549V557M995 531.5H998M1003 531.5H1006M1000.5 529V517M1000.5 534V545M1005 550.5H1008M1013 550.5H1016M1010.5 548V542M1010.5 553V558M1015 453.5H1018M1023 453.5H1026M1020.5 451V417M1020.5 456V491M1036 559.5H1039M1044 559.5H1047M1041.5 557V545M1041.5 562V574M1046 496.5H1049M1054 496.5H1057M1051.5 494V462M1051.5 499V531M1056 436.5H1059M1064 436.5H1067M1061.5 434V391M1061.5 439V483M1066 528.5H1069M1074 528.5H1077M1076 575.5H1080M1085 575.5H1088M1082.5 573V559M1082.5 578V600M1087 649.5H1090M1095 649.5H1098M1092.5 647V579M1092.5 652V720M1097 570.5H1100M1105 570.5H1108M1102.5 568V542M1102.5 573V599M1117 544.5H1120M1125 544.5H1128M1138 532.5H1141M1146 532.5H1149"/><path shape-rendering="crispEdges" d="M149 414h6v6h-6zM179 418h6v6h-6zM200 419h6v6h-6zM210 421h6v6h-6zM220 472h6v6h-6zM230 429h6v6h-6zM240 421h6v6h-6zM251 426h6v6h-6zM261 485h6v6h-6zM281 426h6v6h-6zM292 423h6v6h-6zM302 550h6v6h-6zM312 539h6v6h-6zM322 421h6v6h-6zM332 443h6v6h-6zM343 405h6v6h-6zM353 490h6v6h-6zM363 397h6v6h-6zM373 446h6v6h-6zM383 429h6v6h-6zM394 437h6v6h-6zM404 453h6v6h-6zM414 452h6v6h-6zM424 464h6v6h-6zM434 408h6v6h-6zM445 430h6v6h-6zM455 508h6v6h-6zM465 395h6v6h-6zM475 558h6v6h-6zM485 470h6v6h-6zM496 455h6v6h-6zM506 454h6v6h-6zM516 466h6v6h-6zM526 506h6v6h-6zM537 457h6v6h-6zM547 470h6v6h-6zM557 470h6v6h-6zM567 468h6v6h-6zM577 463h6v6h-6zM588 548h6v6h-6zM598 480h6v6h-6zM608 469h6v6h-6zM618 486h6v6h-6zM628 473h6v6h-6zM639 521h6v6h-6zM649 460h6v6h-6zM659 564h6v6h-6zM669 488h6v6h-6zM679 524h6v6h-6zM690 523h6v6h-6zM700 488h6v6h-6zM710 482h6v6h-6zM720 550h6v6h-6zM730 572h6v6h-6zM741 503h6v6h-6zM751 453h6v6h-6zM761 479h6v6h-6zM771 539h6v6h-6zM782 499h6v6h-6zM792 556h6v6h-6zM802 569h6v6h-6zM812 479h6v6h-6zM822 449h6v6h-6zM833 563h6v6h-6zM843 546h6v6h-6zM853 564h6v6h-6zM863 564h6v6h-6zM873 495h6v6h-6zM884 491h6v6h-6zM894 553h6v6h-6zM904 534h6v6h-6zM914 571h6v6h-6zM924 562h6v6h-6zM935 553h6v6h-6zM945 566h6v6h-6zM955 491h6v6h-6zM965 543h6v6h-6zM975 560h6v6h-6zM986 542h6v6h-6zM996 527h6v6h-6zM1006 546h6v6h-6zM1016 449h6v6h-6zM1037 555h6v6h-6zM1047 492h6v6h-6zM1057 432h6v6h-6zM1067 524h6v6h-6zM1078 571h6v6h-6zM1088 645h6v6h-6zM1098 566h6v6h-6zM1118 540h6v6h-6zM1139 528h6v6h-6z"/></g>
<g fill="#66cccc"><path class="e" stroke="#66cccc" d="M148 487.5H151M156 487.5H159M153.5 485V461M153.5 490V514M178 523.5H181M186 523.5H189M199 409.5H202M207 409.5H210M209 521.5H212M217 521.5H220M219 557.5H222M227 557.5H230M229 512.5H232M237 512.5H240M239 500.5H242M247 500.5H251M250 498.5H253M258 498.5H261M260 557.5H263M268 557.5H271M280 490.5H283M288 490.5H291M285.5 488V481M285.5 493V501M290 499.5H294M299 499.5H302M296.5 497V495M296.5 502V504M301 587.5H304M309 587.5H312M311 586.5H314M319 586.5H322M321 513.5H324M329 513.5H332M326.5 511V510M326.5 516V518M331 491.5H334M339 491.5H342M336.5 489V483M336.5 494V501M341 485.5H345M350 485.5H353M347.5 483V479M347.5 488V493M352 555.5H355M360 555.5H363M362 483.5H365M370 483.5H373M367.5 481V473M367.5 486V496M372 502.5H375M380 502.5H383M377.5 500V495M377.5 505V510M382 511.5H385M390 511.5H394M387.5 509V494M387.5 514V528M393 495.5H396M401 495.5H404M398.5 493V484M398.5 498V510M403 498.5H406M411 498.5H414M408.5 496V488M408.5 501V508M413 492.5H416M421 492.5H424M418.5 490V485M418.5 495V503M423 517.5H426M431 517.5H434M433 442.5H436M441 442.5H445M438.5 440V402M438.5 445V483M444 491.5H447M452 491.5H455M449.5 489V482M449.5 494V501M454 555.5H457M462 555.5H465M464 492.5H467M472 492.5H475M469.5 490V475M469.5 495V511M474 584.5H477M482 584.5H485M484 508.5H487M492 508.5H496M489.5 506V503M489.5 511V515M495 490.5H498M503 490.5H506M500.5 488V483M500.5 493V498M505 510.5H508M513 510.5H516M510.5 508V501M510.5 513V523M515 510.5H518M523 510.5H526M520.5 508V499M520.5 513V521M525 555.5H528M533 555.5H536M535 524.5H539M544 524.5H547M541.5 522V518M541.5 527V532M546 487.5H549M554 487.5H557M551.5 485V475M551.5 490V499M556 510.5H559M564 510.5H567M561.5 508V503M561.5 513V518M566 520.5H569M574 520.5H577M571.5 518V514M571.5 523V528M576 489.5H579M584 489.5H587M586 569.5H590M595 569.5H598M597 508.5H600M605 508.5H608M602.5 506V502M602.5 511V516M607 498.5H610M615 498.5H618M612.5 496V488M612.5 501V509M617 495.5H620M625 495.5H628M622.5 493V490M622.5 498V502M627 503.5H630M635 503.5H639M632.5 501V497M632.5 506V512M638 542.5H641M646 542.5H649M648 488.5H651M656 488.5H659M653.5 486V480M653.5 491V498M658 585.5H661M666 585.5H669M668 499.5H671M676 499.5H679M673.5 497V488M673.5 502V512M678 547.5H681M686 547.5H690M689 556.5H692M697 556.5H700M699 512.5H702M707 512.5H710M704.5 510V505M704.5 515V523M709 484.5H712M717 484.5H720M714.5 482V474M714.5 487V495M719 565.5H722M727 565.5H730M729 586.5H732M737 586.5H741M740 518.5H743M748 518.5H751M745.5 516V513M745.5 521V527M750 515.5H753M758 515.5H761M755.5 513V508M755.5 518V527M760 477.5H763M768 477.5H771M765.5 475V466M765.5 480V488M770 550.5H773M778 550.5H781M775.5 548V544M775.5 553V556M780 516.5H784M789 516.5H792M786.5 514V506M786.5 519V527M791 562.5H794M799 562.5H802M801 585.5H804M809 585.5H812M806.5 583V580M806.5 588V592M811 521.5H814M819 521.5H822M816.5 519V511M816.5 524V533M821 530.5H824M829 530.5H832M826.5 528V500M826.5 533V560M831 574.5H835M840 574.5H843M837.5 572V570M837.5 577V579M842 556.5H845M850 556.5H853M852 582.5H855M860 582.5H863M862 572.5H865M870 572.5H873M872 481.5H875M880 481.5H883M877.5 479V455M877.5 484V509M882 533.5H886M891 533.5H894M888.5 531V521M888.5 536V545M893 570.5H896M901 570.5H904M903 538.5H906M911 538.5H914M913 563.5H916M921 563.5H924M923 569.5H926M931 569.5H935M934 575.5H937M942 575.5H945M944 578.5H947M952 578.5H955M949.5 576V568M949.5 581V590M954 510.5H957M962 510.5H965M959.5 508V494M959.5 513V527M964 555.5H967M972 555.5H975M974 582.5H977M982 582.5H986M979.5 580V573M979.5 585V591M985 555.5H988M993 555.5H996M995 558.5H998M1003 558.5H1006M1000.5 556V549M1000.5 561V569M1005 553.5H1008M1013 553.5H1016M1015 517.5H1018M1023 517.5H1026M1020.5 515V498M1020.5 520V538M1036 587.5H1039M1044 587.5H1047M1041.5 585V577M1041.5 590V598M1046 489.5H1049M1054 489.5H1057M1051.5 487V462M1051.5 492V520M1056 500.5H1059M1064 500.5H1067M1061.5 498V465M1061.5 503V533M1066 519.5H1069M1074 519.5H1077M1071.5 517V504M1071.5 522V538M1076 540.5H1080M1085 540.5H1088M1082.5 538V525M1082.5 543V556M1087 560.5H1090M1095 560.5H1098M1092.5 558V531M1092.5 563V591M1097 478.5H1100M1105 478.5H1108M1117 598.5H1120M1125 598.5H1128M1122.5 596V571M1122.5 601V650M1138 450.5H1141M1146 450.5H1149"/><path shape-rendering="crispEdges" d="M151 483h3v2h2v3h-2v2h-3v-2h-2v-3h2zM181 519h3v2h2v3h-2v2h-3v-2h-2v-3h2zM202 405h3v2h2v3h-2v2h-3v-2h-2v-3h2zM212 517h3v2h2v3h-2v2h-3v-2h-2v-3h2zM222 553h3v2h2v3h-2v2h-3v-2h-2v-3h2zM232 508h3v2h2v3h-2v2h-3v-2h-2v-3h2zM242 496h3v2h2v3h-2v2h-3v-2h-2v-3h2zM253 494h3v2h2v3h-2v2h-3v-2h-2v-3h2zM263 553h3v2h2v3h-2v2h-3v-2h-2v-3h2zM283 486h3v2h2v3h-2v2h-3v-2h-2v-3h2zM294 495h3v2h2v3h-2v2h-3v-2h-2v-3h2zM304 583h3v2h2v3h-2v2h-3v-2h-2v-3h2zM314 582h3v2h2v3h-2v2h-3v-2h-2v-3h2zM324 509h3v2h2v3h-2v2h-3v-2h-2v-3h2zM334 487h3v2h2v3h-2v2h-3v-2h-2v-3h2zM345 481h3v2h2v3h-2v2h-3v-2h-2v-3h2zM355 551h3v2h2v3h-2v2h-3v-2h-2v-3h2zM365 479h3v2h2v3h-2v2h-3v-2h-2v-3h2zM375 498h3v2h2v3h-2v2h-3v-2h-2v-3h2zM385 507h3v2h2v3h-2v2h-3v-2h-2v-3h2zM396 491h3v2h2v3h-2v2h-3v-2h-2v-3h2zM406 494h3v2h2v3h-2v2h-3v-2h-2v-3h2zM416 488h3v2h2v3h-2v2h-3v-2h-2v-3h2zM426 513h3v2h2v3h-2v2h-3v-2h-2v-3h2zM436 438h3v2h2v3h-2v2h-3v-2h-2v-3h2zM447 487h3v2h2v3h-2v2h-3v-2h-2v-3h2zM457 551h3v2h2v3h-2v2h-3v-2h-2v-3h2zM467 488h3v2h2v3h-2v2h-3v-2h-2v-3h2zM477 580h3v2h2v3h-2v2h-3v-2h-2v-3h2zM487 504h3v2h2v3h-2v2h-3v-2h-2v-3h2zM498 486h3v2h2v3h-2v2h-3v-2h-2v-3h2zM508 506h3v2h2v3h-2v2h-3v-2h-2v-3h2zM518 506h3v2h2v3h-2v2h-3v-2h-2v-3h2zM528 551h3v2h2v3h-2v2h-3v-2h-2v-3h2zM539 520h3v2h2v3h-2v2h-3v-2h-2v-3h2zM549 483h3v2h2v3h-2v2h-3v-2h-2v-3h2zM559 506h3v2h2v3h-2v2h-3v-2h-2v-3h2zM569 516h3v2h2v3h-2v2h-3v-2h-2v-3h2zM579 485h3v2h2v3h-2v2h-3v-2h-2v-3h2zM590 565h3v2h2v3h-2v2h-3v-2h-2v-3h2zM600 504h3v2h2v3h-2v2h-3v-2h-2v-3h2zM610 494h3v2h2v3h-2v2h-3v-2h-2v-3h2zM620 491h3v2h2v3h-2v2h-3v-2h-2v-3h2zM630 499h3v2h2v3h-2v2h-3v-2h-2v-3h2zM641 538h3v2h2v3h-2v2h-3v-2h-2v-3h2zM651 484h3v2h2v3h-2v2h-3v-2h-2v-3h2zM661 581h3v2h2v3h-2v2h-3v-2h-2v-3h2zM671 495h3v2h2v3h-2v2h-3v-2h-2v-3h2zM681 543h3v2h2v3h-2v2h-3v-2h-2v-3h2zM692 552h3v2h2v3h-2v2h-3v-2h-2v-3h2zM702 508h3v2h2v3h-2v2h-3v-2h-2v-3h2zM712 480h3v2h2v3h-2v2h-3v-2h-2v-3h2zM722 561h3v2h2v3h-2v2h-3v-2h-2v-3h2zM732 582h3v2h2v3h-2v2h-3v-2h-2v-3h2zM743 514h3v2h2v3h-2v2h-3v-2h-2v-3h2zM753 511h3v2h2v3h-2v2h-3v-2h-2v-3h2zM763 473h3v2h2v3h-2v2h-3v-2h-2v-3h2zM773 546h3v2h2v3h-2v2h-3v-2h-2v-3h2zM784 512h3v2h2v3h-2v2h-3v-2h-2v-3h2zM794 558h3v2h2v3h-2v2h-3v-2h-2v-3h2zM804 581h3v2h2v3h-2v2h-3v-2h-2v-3h2zM814 517h3v2h2v3h-2v2h-3v-2h-2v-3h2zM824 526h3v2h2v3h-2v2h-3v-2h-2v-3h2zM835 570h3v2h2v3h-2v2h-3v-2h-2v-3h2zM845 552h3v2h2v3h-2v2h-3v-2h-2v-3h2zM855 578h3v2h2v3h-2v2h-3v-2h-2v-3h2zM865 568h3v2h2v3h-2v2h-3v-2h-2v-3h2zM875 477h3v2h2v3h-2v2h-3v-2h-2v-3h2zM886 529h3v2h2v3h-2v2h-3v-2h-2v-3h2zM896 566h3v2h2v3h-2v2h-3v-2h-2v-3h2zM906 534h3v2h2v3h-2v2h-3v-2h-2v-3h2zM916 559h3v2h2v3h-2v2h-3v-2h-2v-3h2zM926 565h3v2h2v3h-2v2h-3v-2h-2v-3h2zM937 571h3v2h2v3h-2v2h-3v-2h-2v-3h2zM947 574h3v2h2v3h-2v2h-3v-2h-2v-3h2zM957 506h3v2h2v3h-2v2h-3v-2h-2v-3h2zM967 551h3v2h2v3h-2v2h-3v-2h-2v-3h2zM977 578h3v2h2v3h-2v2h-3v-2h-2v-3h2zM988 551h3v2h2v3h-2v2h-3v-2h-2v-3h2zM998 554h3v2h2v3h-2v2h-3v-2h-2v-3h2zM1008 549h3v2h2v3h-2v2h-3v-2h-2v-3h2zM1018 513h3v2h2v3h-2v2h-3v-2h-2v-3h2zM1039 583h3v2h2v3h-2v2h-3v-2h-2v-3h2zM1049 485h3v2h2v3h-2v2h-3v-2h-2v-3h2zM1059 496h3v2h2v3h-2v2h-3v-2h-2v-3h2zM1069 515h3v2h2v3h-2v2h-3v-2h-2v-3h2zM1080 536h3v2h2v3h-2v2h-3v-2h-2v-3h2zM1090 556h3v2h2v3h-2v2h-3v-2h-2v-3h2zM1100 474h3v2h2v3h-2v2h-3v-2h-2v-3h2zM1120 594h3v2h2v3h-2v2h-3v-2h-2v-3h2zM1141 446h3v2h2v3h-2v2h-3v-2h-2v-3h2z"/></g>
<g fill="#009900"><path class="e" stroke="#009900" d="M148 444.5H151M156 444.5H159M153.5 442V431M153.5 447V458M178 488.5H181M186 488.5H189M199 470.5H202M207 470.5H210M204.5 468V432M204.5 473V509M209 484.5H212M217 484.5H220M219 565.5H222M227 565.5H230M229 470.5H232M237 470.5H240M239 448.5H242M247 448.5H251M250 452.5H253M258 452.5H261M260 568.5H263M268 568.5H271M280 453.5H283M288 453.5H291M285.5 451V448M285.5 456V458M290 446.5H294M299 446.5H302M301 607.5H304M309 607.5H312M311 600.5H314M319 600.5H322M321 461.5H324M329 461.5H332M331 466.5H334M339 466.5H342M341 428.5H345M350 428.5H353M352 580.5H355M360 580.5H363M362 436.5H365M370 436.5H373M367.5 434V431M367.5 439V442M372 495.5H375M380 495.5H383M382 463.5H385M390 463.5H394M387.5 461V457M387.5 466V468M393 453.5H396M401 453.5H404M398.5 451V446M398.5 456V461M403 469.5H406M411 469.5H414M408.5 467V464M408.5 472V473M413 482.5H416M421 482.5H424M418.5 480V478M418.5 485V488M423 528.5H426M431 528.5H434M433 445.5H436M441 445.5H445M438.5 443V426M438.5 448V465M444 470.5H447M452 470.5H455M449.5 468V465M449.5 473V475M454 589.5H457M462 589.5H465M464 457.5H467M472 457.5H475M469.5 455V448M469.5 460V468M474 610.5H477M482 610.5H485M484 536.5H487M492 536.5H496M489.5 534V533M489.5 539V540M495 484.5H498M503 484.5H506M500.5 482V480M500.5 487V489M505 492.5H508M513 492.5H516M510.5 490V485M510.5 495V498M515 475.5H518M523 475.5H526M520.5 473V469M520.5 478V483M525 593.5H528M533 593.5H536M535 546.5H539M544 546.5H547M541.5 544V542M541.5 549V551M546 492.5H549M554 492.5H557M556 512.5H559M564 512.5H567M561.5 510V507M561.5 515V517M566 542.5H569M574 542.5H577M571.5 540V538M571.5 545V547M576 492.5H579M584 492.5H587M586 611.5H590M595 611.5H598M597 535.5H600M605 535.5H608M602.5 533V531M602.5 538V538M607 492.5H610M615 492.5H618M617 506.5H620M625 506.5H628M622.5 504V502M622.5 509V513M627 546.5H630M635 546.5H639M632.5 544V541M632.5 549V555M638 592.5H641M646 592.5H649M648 524.5H651M656 524.5H659M653.5 522V519M653.5 527V532M658 619.5H661M666 619.5H669M668 535.5H671M676 535.5H679M673.5 533V529M673.5 538V542M678 596.5H681M686 596.5H690M689 599.5H692M697 599.5H700M699 547.5H702M707 547.5H710M704.5 545V543M704.5 550V554M709 507.5H712M717 507.5H720M714.5 505V498M714.5 510V517M719 612.5H722M727 612.5H730M729 624.5H732M737 624.5H741M740 535.5H743M748 535.5H751M745.5 533V530M745.5 538V540M750 554.5H753M758 554.5H761M755.5 552V549M755.5 557V559M760 491.5H763M768 491.5H771M765.5 489V480M765.5 494V503M770 599.5H773M778 599.5H781M780 550.5H784M789 550.5H792M786.5 548V545M786.5 553V556M791 612.5H794M799 612.5H802M801 626.5H804M809 626.5H812M811 554.5H814M819 554.5H822M816.5 552V548M816.5 557V561M821 459.5H824M829 459.5H832M826.5 457V441M826.5 462V476M831 619.5H835M840 619.5H843M842 602.5H845M850 602.5H853M852 623.5H855M860 623.5H863M862 617.5H865M870 617.5H873M872 538.5H875M880 538.5H883M877.5 536V527M877.5 541V550M882 544.5H886M891 544.5H894M888.5 542V537M888.5 547V552M893 617.5H896M901 617.5H904M903 600.5H906M911 600.5H914M913 613.5H916M921 613.5H924M923 615.5H926M931 615.5H935M934 617.5H937M942 617.5H945M944 626.5H947M952 626.5H955M949.5 624V622M949.5 629V630M954 558.5H957M962 558.5H965M959.5 556V548M959.5 561V569M964 604.5H967M972 604.5H975M974 620.5H977M982 620.5H986M985 598.5H988M993 598.5H996M995 598.5H998M1003 598.5H1006M1000.5 596V593M1000.5 601V604M1005 605.5H1008M1013 605.5H1016M1015 609.5H1018M1023 609.5H1026M1020.5 607V599M1020.5 612V620M1025 458.5H1029M1034 458.5H1037M1031.5 456V415M1031.5 461V502M1036 620.5H1039M1044 620.5H1047M1041.5 618V615M1041.5 623V625M1046 549.5H1049M1054 549.5H1057M1051.5 547V539M1051.5 552V561M1056 501.5H1059M1064 501.5H1067M1061.5 499V484M1061.5 504V519M1066 568.5H1069M1074 568.5H1077M1071.5 566V554M1071.5 571V583M1076 619.5H1080M1085 619.5H1088M1082.5 617V613M1082.5 622V625M1087 540.5H1090M1095 540.5H1098M1092.5 538V523M1092.5 543V558M1097 550.5H1100M1105 550.5H1108M1102.5 548V524M1102.5 553V576M1117 550.5H1120M1125 550.5H1128M1122.5 548V529M1122.5 553V571M1127 500.5H1131M1136 500.5H1139M1138 506.5H1141M1146 506.5H1149M1143.5 504V492M1143.5 509V522"/><path shape-rendering="crispEdges" d="M149 440h7v3h-1v2h-1v2h-1v-1h-1v-2h-1v-2h-1v-1h-1zM179 484h7v3h-1v2h-1v2h-1v-1h-1v-2h-1v-2h-1v-1h-1zM200 466h7v3h-1v2h-1v2h-1v-1h-1v-2h-1v-2h-1v-1h-1zM210 480h7v3h-1v2h-1v2h-1v-1h-1v-2h-1v-2h-1v-1h-1zM220 561h7v3h-1v2h-1v2h-1v-1h-1v-2h-1v-2h-1v-1h-1zM230 466h7v3h-1v2h-1v2h-1v-1h-1v-2h-1v-2h-1v-1h-1zM240 444h7v3h-1v2h-1v2h-1v-1h-1v-2h-1v-2h-1v-1h-1zM251 448h7v3h-1v2h-1v2h-1v-1h-1v-2h-1v-2h-1v-1h-1zM261 564h7v3h-1v2h-1v2h-1v-1h-1v-2h-1v-2h-1v-1h-1zM281 449h7v3h-1v2h-1v2h-1v-1h-1v-2h-1v-2h-1v-1h-1zM292 442h7v3h-1v2h-1v2h-1v-1h-1v-2h-1v-2h-1v-1h-1zM302 603h7v3h-1v2h-1v2h-1v-1h-1v-2h-1v-2h-1v-1h-1zM312 596h7v3h-1v2h-1v2h-1v-1h-1v-2h-1v-2h-1v-1h-1zM322 457h7v3h-1v2h-1v2h-1v-1h-1v-2h-1v-2h-1v-1h-1zM332 462h7v3h-1v2h-1v2h-1v-1h-1v-2h-1v-2h-1v-1h-1zM343 424h7v3h-1v2h-1v2h-1v-1h-1v-2h-1v-2h-1v-1h-1zM353 576h7v3h-1v2h-1v2h-1v-1h-1v-2h-1v-2h-1v-1h-1zM363 432h7v3h-1v2h-1v2h-1v-1h-1v-2h-1v-2h-1v-1h-1zM373 491h7v3h-1v2h-1v2h-1v-1h-1v-2h-1v-2h-1v-1h-1zM383 459h7v3h-1v2h-1v2h-1v-1h-1v-2h-1v-2h-1v-1h-1zM394 449h7v3h-1v2h-1v2h-1v-1h-1v-2h-1v-2h-1v-1h-1zM404 465h7v3h-1v2h-1v2h-1v-1h-1v-2h-1v-2h-1v-1h-1zM414 478h7v3h-1v2h-1v2h-1v-1h-1v-2h-1v-2h-1v-1h-1zM424 524h7v3h-1v2h-1v2h-1v-1h-1v-2h-1v-2h-1v-1h-1zM434 441h7v3h-1v2h-1v2h-1v-1h-1v-2h-1v-2h-1v-1h-1zM445 466h7v3h-1v2h-1v2h-1v-1h-1v-2h-1v-2h-1v-1h-1zM455 585h7v3h-1v2h-1v2h-1v-1h-1v-2h-1v-2h-1v-1h-1zM465 453h7v3h-1v2h-1v2h-1v-1h-1v-2h-1v-2h-1v-1h-1zM475 606h7v3h-1v2h-1v2h-1v-1h-1v-2h-1v-2h-1v-1h-1zM485 532h7v3h-1v2h-1v2h-1v-1h-1v-2h-1v-2h-1v-1h-1zM496 480h7v3h-1v2h-1v2h-1v-1h-1v-2h-1v-2h-1v-1h-1zM506 488h7v3h-1v2h-1v2h-1v-1h-1v-2h-1v-2h-1v-1h-1zM516 471h7v3h-1v2h-1v2h-1v-1h-1v-2h-1v-2h-1v-1h-1zM526 589h7v3h-1v2h-1v2h-1v-1h-1v-2h-1v-2h-1v-1h-1zM537 542h7v3h-1v2h-1v2h-1v-1h-1v-2h-1v-2h-1v-1h-1zM547 488h7v3h-1v2h-1v2h-1v-1h-1v-2h-1v-2h-1v-1h-1zM557 508h7v3h-1v2h-1v2h-1v-1h-1v-2h-1v-2h-1v-1h-1zM567 538h7v3h-1v2h-1v2h-1v-1h-1v-2h-1v-2h-1v-1h-1zM577 488h7v3h-1v2h-1v2h-1v-1h-1v-2h-1v-2h-1v-1h-1zM588 607h7v3h-1v2h-1v2h-1v-1h-1v-2h-1v-2h-1v-1h-1zM598 531h7v3h-1v2h-1v2h-1v-1h-1v-2h-1v-2h-1v-1h-1zM608 488h7v3h-1v2h-1v2h-1v-1h-1v-2h-1v-2h-1v-1h-1zM618 502h7v3h-1v2h-1v2h-1v-1h-1v-2h-1v-2h-1v-1h-1zM628 542h7v3h-1v2h-1v2h-1v-1h-1v-2h-1v-2h-1v-1h-1zM639 588h7v3h-1v2h-1v2h-1v-1h-1v-2h-1v-2h-1v-1h-1zM649 520h7v3h-1v2h-1v2h-1v-1h-1v-2h-1v-2h-1v-1h-1zM659 615h7v3h-1v2h-1v2h-1v-1h-1v-2h-1v-2h-1v-1h-1zM669 531h7v3h-1v2h-1v2h-1v-1h-1v-2h-1v-2h-1v-1h-1zM679 592h7v3h-1v2h-1v2h-1v-1h-1v-2h-1v-2h-1v-1h-1zM690 595h7v3h-1v2h-1v2h-1v-1h-1v-2h-1v-2h-1v-1h-1zM700 543h7v3h-1v2h-1v2h-1v-1h-1v-2h-1v-2h-1v-1h-1zM710 503h7v3h-1v2h-1v2h-1v-1h-1v-2h-1v-2h-1v-1h-1zM720 608h7v3h-1v2h-1v2h-1v-1h-1v-2h-1v-2h-1v-1h-1zM730 620h7v3h-1v2h-1v2h-1v-1h-1v-2h-1v-2h-1v-1h-1zM741 531h7v3h-1v2h-1v2h-1v-1h-1v-2h-1v-2h-1v-1h-1zM751 550h7v3h-1v2h-1v2h-1v-1h-1v-2h-1v-2h-1v-1h-1zM761 487h7v3h-1v2h-1v2h-1v-1h-1v-2h-1v-2h-1v-1h-1zM771 595h7v3h-1v2h-1v2h-1v-1h-1v-2h-1v-2h-1v-1h-1zM782 546h7v3h-1v2h-1v2h-1v-1h-1v-2h-1v-2h-1v-1h-1zM792 608h7v3h-1v2h-1v2h-1v-1h-1v-2h-1v-2h-1v-1h-1zM802 622h7v3h-1v2h-1v2h-1v-1h-1v-2h-1v-2h-1v-1h-1zM812 550h7v3h-1v2h-1v2h-1v-1h-1v-2h-1v-2h-1v-1h-1zM822 455h7v3h-1v2h-1v2h-1v-1h-1v-2h-1v-2h-1v-1h-1zM833 615h7v3h-1v2h-1v2h-1v-1h-1v-2h-1v-2h-1v-1h-1zM843 598h7v3h-1v2h-1v2h-1v-1h-1v-2h-1v-2h-1v-1h-1zM853 619h7v3h-1v2h-1v2h-1v-1h-1v-2h-1v-2h-1v-1h-1zM863 613h7v3h-1v2h-1v2h-1v-1h-1v-2h-1v-2h-1v-1h-1zM873 534h7v3h-1v2h-1v2h-1v-1h-1v-2h-1v-2h-1v-1h-1zM884 540h7v3h-1v2h-1v2h-1v-1h-1v-2h-1v-2h-1v-1h-1zM894 613h7v3h-1v2h-1v2h-1v-1h-1v-2h-1v-2h-1v-1h-1zM904 596h7v3h-1v2h-1v2h-1v-1h-1v-2h-1v-2h-1v-1h-1zM914 609h7v3h-1v2h-1v2h-1v-1h-1v-2h-1v-2h-1v-1h-1zM924 611h7v3h-1v2h-1v2h-1v-1h-1v-2h-1v-2h-1v-1h-1zM935 613h7v3h-1v2h-1v2h-1v-1h-1v-2h-1v-2h-1v-1h-1zM945 622h7v3h-1v2h-1v2h-1v-1h-1v-2h-1v-2h-1v-1h-1zM955 554h7v3h-1v2h-1v2h-1v-1h-1v-2h-1v-2h-1v-1h-1zM965 600h7v3h-1v2h-1v2h-1v-1h-1v-2h-1v-2h-1v-1h-1zM975 616h7v3h-1v2h-1v2h-1v-1h-1v-2h-1v-2h-1v-1h-1zM986 594h7v3h-1v2h-1v2h-1v-1h-1v-2h-1v-2h-1v-1h-1zM996 594h7v3h-1v2h-1v2h-1v-1h-1v-2h-1v-2h-1v-1h-1zM1006 601h7v3h-1v2h-1v2h-1v-1h-1v-2h-1v-2h-1v-1h-1zM1016 605h7v3h-1v2h-1v2h-1v-1h-1v-2h-1v-2h-1v-1h-1zM1027 454h7v3h-1v2h-1v2h-1v-1h-1v-2h-1v-2h-1v-1h-1zM1037 616h7v3h-1v2h-1v2h-1v-1h-1v-2h-1v-2h-1v-1h-1zM1047 545h7v3h-1v2h-1v2h-1v-1h-1v-2h-1v-2h-1v-1h-1zM1057 497h7v3h-1v2h-1v2h-1v-1h-1v-2h-1v-2h-1v-1h-1zM1067 564h7v3h-1v2h-1v2h-1v-1h-1v-2h-1v-2h-1v-1h-1zM1078 615h7v3h-1v2h-1v2h-1v-1h-1v-2h-1v-2h-1v-1h-1zM1088 536h7v3h-1v2h-1v2h-1v-1h-1v-2h-1v-2h-1v-1h-1zM1098 546h7v3h-1v2h-1v2h-1v-1h-1v-2h-1v-2h-1v-1h-1zM1118 546h7v3h-1v2h-1v2h-1v-1h-1v-2h-1v-2h-1v-1h-1zM1129 496h7v3h-1v2h-1v2h-1v-1h-1v-2h-1v-2h-1v-1h-1zM1139 502h7v3h-1v2h-1v2h-1v-1h-1v-2h-1v-2h-1v-1h-1z"/></g>
</g>
<g class="tl">
<text transform="translate(225.4,935.8) scale(0.945,1)" text-anchor="middle"><tspan style="font-weight:normal">−</tspan>3</text>
<text transform="translate(367.3,935.8) scale(0.945,1)" text-anchor="middle"><tspan style="font-weight:normal">−</tspan>2</text>
<text transform="translate(509.2,935.8) scale(0.945,1)" text-anchor="middle"><tspan style="font-weight:normal">−</tspan>1</text>
<text transform="translate(652.6,935.8) scale(0.945,1)" text-anchor="middle">0</text>
<text transform="translate(794.5,935.8) scale(0.945,1)" text-anchor="middle">1</text>
<text transform="translate(936.5,935.8) scale(0.945,1)" text-anchor="middle">2</text>
<text transform="translate(1078.3,935.8) scale(0.945,1)" text-anchor="middle">3</text>
<text transform="translate(121.0,906.2) scale(0.945,1)" text-anchor="end"><tspan style="font-weight:normal">−</tspan>15</text>
<text transform="translate(121.0,773.4) scale(0.945,1)" text-anchor="end"><tspan style="font-weight:normal">−</tspan>10</text>
<text transform="translate(121.0,640.6) scale(0.945,1)" text-anchor="end"><tspan style="font-weight:normal">−</tspan>5</text>
<text transform="translate(121.0,507.8) scale(0.945,1)" text-anchor="end">0</text>
<text transform="translate(121.0,375) scale(0.945,1)" text-anchor="end">5</text>
<text transform="translate(121.0,242.2) scale(0.945,1)" text-anchor="end">10</text>
<text transform="translate(121.0,109.4) scale(0.945,1)" text-anchor="end">15</text>
</g>
<text class="at" x="1148.4" y="974" text-anchor="end" textLength="365" lengthAdjust="spacingAndGlyphs">Downstream Muon PrsPIDe</text>
<text class="at" transform="translate(50.9,97.8) rotate(-90)" text-anchor="end" textLength="434" lengthAdjust="spacingAndGlyphs">Downstream Muon CombDLLmu</text>
<g>
<path d="M682.5 105h4V253.5H599v-4H682.5V105z" fill="#000"/>
<rect x="593.5" y="99.5" width="89.0" height="150.0" fill="#fff" stroke="#000" stroke-width="1" shape-rendering="crispEdges"/>
<g clip-path="url(#lc)"><path d="M598 109h1v2h1v2h1v2h-6v-1h1v-2h1v-2h1z" fill="#ff0000"/><path d="M595 136.5a3.55 3.55 0 1 0 7.1 0a3.55 3.55 0 1 0 -7.1 0z" fill="#0000ff"/><path d="M594 157h7v3h-1v2h-1v2h-1v-1h-1v-2h-1v-2h-1v-1h-1z" fill="#009900"/><path d="M594 182h6v6h-6z" fill="#990099"/><path d="M596 207h3v2h2v3h-2v2h-3v-2h-2v-3h2z" fill="#66cccc"/><path d="M598 233h1v2h1v3h-1v1h-1v-1h-1v-1h-1v-2h1v-1h1z" fill="#000000"/></g>
<text class="lg" x="603.8" y="116.5">Electron</text>
<text class="lg" x="603.8" y="141.6">Muon</text>
<text class="lg" x="603.8" y="166.6">Pion</text>
<text class="lg" x="603.8" y="191.7">Kaon</text>
<text class="lg" x="603.8" y="216.8">Proton</text>
<text class="lg" x="603.8" y="241.8">Ghost</text>
</g>
</svg>
</body></html>
